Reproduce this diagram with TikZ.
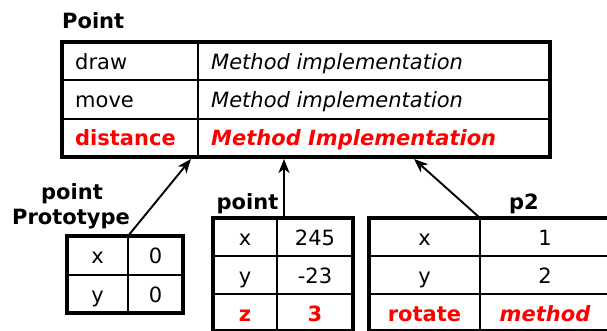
\documentclass[tikz,border=0pt]{standalone}
\usepackage{fontspec}
\setmainfont{DejaVu Sans}
\usetikzlibrary{arrows.meta}
\definecolor{hot}{RGB}{255,0,0}

\begin{document}
\begin{tikzpicture}[x=1pt,y=-1pt,
  tbl/.style={draw, line width=3.2pt, inner sep=0pt, outer sep=0pt, anchor=north west},
  rule/.style={line width=2pt},
  txt/.style={font=\fontsize{21}{24}\selectfont, inner sep=0pt, anchor=base},
  lft/.style={txt, anchor=base west},
  em/.style={font=\fontsize{21}{24}\selectfont\itshape},
  hl/.style={text=hot, font=\fontsize{21}{24}\selectfont\bfseries},
  hlem/.style={text=hot, font=\fontsize{21}{24}\selectfont\bfseries\itshape},
  title/.style={txt, font=\fontsize{21}{24}\selectfont\bfseries},
  link/.style={line width=1.9pt, -{Stealth[length=14pt, width=11pt, inset=4pt]}}
]
\useasboundingbox (0,0) rectangle (607,331);

% ---------- class table: Point ----------
\node[title, anchor=base west] (clsname) at (62,29) {Point};
\node[tbl, minimum width=488pt, minimum height=115pt] (cls) at (62,42) {};
\draw[rule] (62,80.3) -- (550,80.3) (62,118.6) -- (550,118.6) (198,42) -- (198,157);
\node[lft] (m1) at (75,69.5) {draw};
\node[lft, em] (i1) at (211,69.5) {Method implementation};
\node[lft] (m2) at (75,107.5) {move};
\node[lft, em] (i2) at (211,107.5) {Method implementation};
\node[lft, hl] (m3) at (75,145.5) {distance};
\node[lft, hlem] (i3) at (211,145.5) {Method Implementation};

% ---------- pointPrototype ----------
\node[title] (ppname1) at (72,200) {point};
\node[title] (ppname2) at (71,224.5) {Prototype};
\node[tbl, minimum width=116pt, minimum height=77pt] (pp) at (67,236) {};
\draw[rule] (67,275) -- (183,275) (128,236) -- (128,313);
\node[txt] (ppx) at (97.5,263) {x};
\node[txt] (ppxv) at (155.5,263) {0};
\node[txt] (ppy) at (97.5,302) {y};
\node[txt] (ppyv) at (155.5,302) {0};

% ---------- point ----------
\node[title] (ptname) at (247.5,209) {point};
\node[tbl, minimum width=140pt, minimum height=113pt] (pt) at (213,218) {};
\draw[rule] (213,256) -- (353,256) (213,294) -- (353,294) (277,218) -- (277,331);
\node[txt] (ptx) at (245,245.5) {x};
\node[txt] (ptxv) at (315,245.5) {245};
\node[txt] (pty) at (245,283) {y};
\node[txt] (ptyv) at (315,283) {-23};
\node[txt, hl] (ptz) at (245,321) {z};
\node[txt, hl] (ptzv) at (315,321) {3};

% ---------- p2 ----------
\node[title] (p2name) at (524,209) {p2};
\node[tbl, minimum width=243pt, minimum height=113pt] (p2) at (369,218) {};
\draw[rule] (369,256) -- (612,256) (369,294) -- (612,294) (480,218) -- (480,331);
\node[txt] (p2x) at (424.5,245.5) {x};
\node[txt] (p2xv) at (545,245.5) {1};
\node[txt] (p2y) at (424.5,283) {y};
\node[txt] (p2yv) at (545,283) {2};
\node[txt, hl] (p2r) at (424.5,321) {rotate};
\node[txt, hlem] (p2rv) at (545,321) {method};

% ---------- prototype links ----------
\coordinate (ppTop) at (128,236);
\coordinate (ptTop) at (284,218);
\coordinate (p2Top) at (480,218);
\coordinate (hitA) at (191,159);
\coordinate (hitB) at (284,159);
\coordinate (hitC) at (414,159);
\draw[link] (ppTop) -- (hitA);
\draw[link] (ptTop) -- (hitB);
\draw[link] (p2Top) -- (hitC);
\end{tikzpicture}
\end{document}
